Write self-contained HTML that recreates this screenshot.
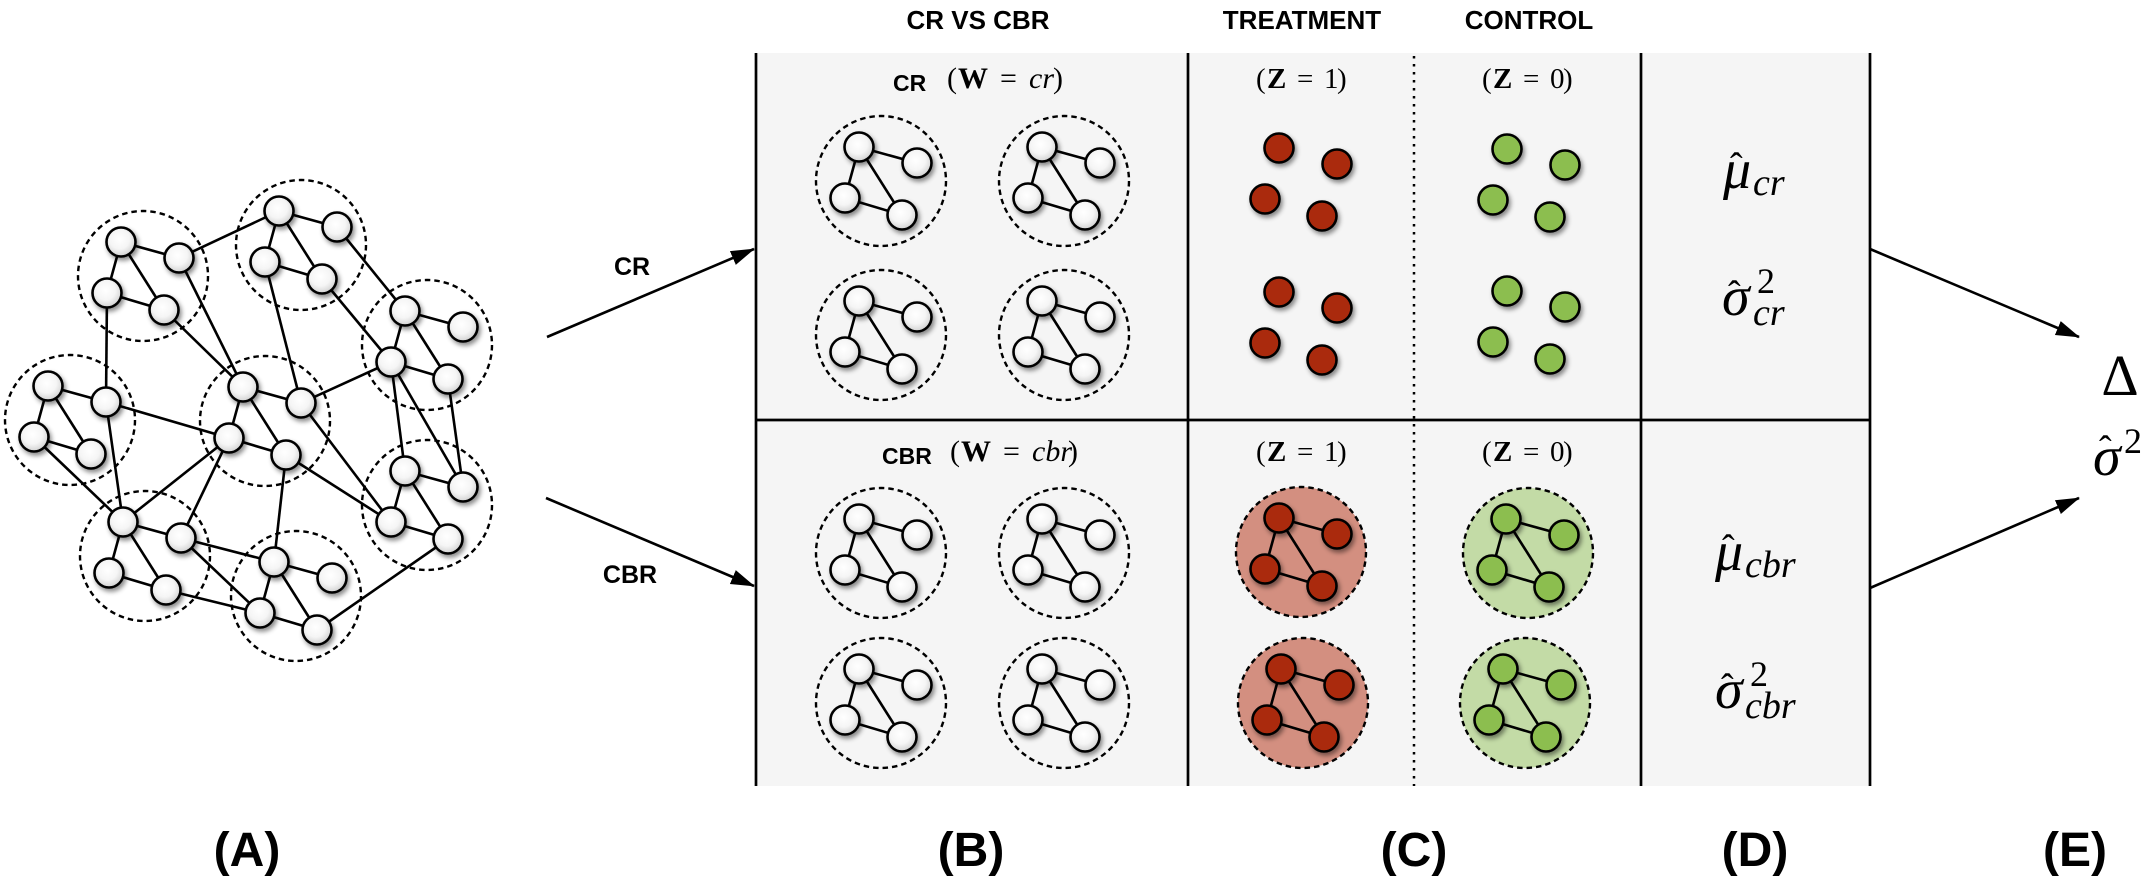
<!DOCTYPE html>
<html>
<head>
<meta charset="utf-8">
<style>
html,body{margin:0;padding:0;background:#fff;}
svg{display:block;}
.ttl{font-family:"Liberation Sans",Arial,sans-serif;font-weight:bold;}
.m{font-family:"Liberation Serif","Times New Roman",serif;}
</style>
</head>
<body>
<svg width="2153" height="880" viewBox="0 0 2153 880" xmlns="http://www.w3.org/2000/svg">
<defs>
  <radialGradient id="ngr" cx="45%" cy="40%" r="62%">
    <stop offset="0" stop-color="#ffffff"/>
    <stop offset="0.55" stop-color="#f5f5f5"/>
    <stop offset="1" stop-color="#cfcfcf"/>
  </radialGradient>
  <filter id="sh" x="-60%" y="-60%" width="220%" height="220%">
    <feDropShadow dx="2" dy="3" stdDeviation="2.5" flood-color="#000" flood-opacity="0.45"/>
  </filter>
  <marker id="ar" markerUnits="userSpaceOnUse" markerWidth="24" markerHeight="18" viewBox="0 0 24 18" refX="23" refY="9" orient="auto">
    <path d="M0,1.5 L24,9 L0,16.5 z" fill="#000"/>
  </marker>
  <g id="ed" stroke="#000" stroke-width="2.6" fill="none">
    <line x1="-22" y1="-34" x2="36" y2="-18"/>
    <line x1="-22" y1="-34" x2="-36" y2="17"/>
    <line x1="-22" y1="-34" x2="21" y2="34"/>
    <line x1="-36" y1="17" x2="21" y2="34"/>
  </g>
  <g id="nw" fill="url(#ngr)" stroke="#000" stroke-width="2.6" filter="url(#sh)">
    <circle cx="-22" cy="-34" r="14.5"/>
    <circle cx="36" cy="-18" r="14.5"/>
    <circle cx="-36" cy="17" r="14.5"/>
    <circle cx="21" cy="34" r="14.5"/>
  </g>
  <g id="nr" fill="#aa290b" stroke="#000" stroke-width="2.6" filter="url(#sh)">
    <circle cx="-22" cy="-34" r="14.5"/>
    <circle cx="36" cy="-18" r="14.5"/>
    <circle cx="-36" cy="17" r="14.5"/>
    <circle cx="21" cy="34" r="14.5"/>
  </g>
  <g id="ngn" fill="#8cbe50" stroke="#000" stroke-width="2.6" filter="url(#sh)">
    <circle cx="-22" cy="-34" r="14.5"/>
    <circle cx="36" cy="-18" r="14.5"/>
    <circle cx="-36" cy="17" r="14.5"/>
    <circle cx="21" cy="34" r="14.5"/>
  </g>
  <circle id="dc" cx="0" cy="0" r="65" fill="none" stroke="#000" stroke-width="2.4" stroke-dasharray="5.5 4"/>
  <g id="cw"><use href="#dc"/><use href="#ed"/><use href="#nw"/></g>
</defs>

<!-- ================= PANEL A ================= -->
<g>
  <use href="#dc" x="143" y="276"/>
  <use href="#dc" x="301" y="245"/>
  <use href="#dc" x="427" y="345"/>
  <use href="#dc" x="70" y="420"/>
  <use href="#dc" x="265" y="421"/>
  <use href="#dc" x="427" y="505"/>
  <use href="#dc" x="145" y="556"/>
  <use href="#dc" x="296" y="596"/>

  <use href="#ed" x="143" y="276"/>
  <use href="#ed" x="301" y="245"/>
  <use href="#ed" x="427" y="345"/>
  <use href="#ed" x="70" y="420"/>
  <use href="#ed" x="265" y="421"/>
  <use href="#ed" x="427" y="505"/>
  <use href="#ed" x="145" y="556"/>
  <use href="#ed" x="296" y="596"/>

  <g stroke="#000" stroke-width="2.6">
    <line x1="179" y1="258" x2="279" y2="211"/>
    <line x1="179" y1="258" x2="243" y2="387"/>
    <line x1="164" y1="310" x2="243" y2="387"/>
    <line x1="107" y1="293" x2="106" y2="402"/>
    <line x1="337" y1="227" x2="405" y2="311"/>
    <line x1="265" y1="262" x2="301" y2="403"/>
    <line x1="322" y1="279" x2="391" y2="362"/>
    <line x1="301" y1="403" x2="391" y2="362"/>
    <line x1="391" y1="362" x2="405" y2="471"/>
    <line x1="391" y1="362" x2="463" y2="487"/>
    <line x1="448" y1="379" x2="463" y2="487"/>
    <line x1="106" y1="402" x2="229" y2="438"/>
    <line x1="106" y1="402" x2="123" y2="522"/>
    <line x1="34" y1="437" x2="123" y2="522"/>
    <line x1="229" y1="438" x2="123" y2="522"/>
    <line x1="229" y1="438" x2="181" y2="538"/>
    <line x1="301" y1="403" x2="391" y2="522"/>
    <line x1="286" y1="455" x2="391" y2="522"/>
    <line x1="286" y1="455" x2="274" y2="562"/>
    <line x1="181" y1="538" x2="274" y2="562"/>
    <line x1="181" y1="538" x2="260" y2="613"/>
    <line x1="166" y1="590" x2="260" y2="613"/>
    <line x1="317" y1="630" x2="448" y2="539"/>
  </g>

  <use href="#nw" x="143" y="276"/>
  <use href="#nw" x="301" y="245"/>
  <use href="#nw" x="427" y="345"/>
  <use href="#nw" x="70" y="420"/>
  <use href="#nw" x="265" y="421"/>
  <use href="#nw" x="427" y="505"/>
  <use href="#nw" x="145" y="556"/>
  <use href="#nw" x="296" y="596"/>
</g>

<!-- arrows -->
<g stroke="#000" stroke-width="2.6">
  <line x1="547" y1="337" x2="754" y2="249" marker-end="url(#ar)"/>
  <line x1="546" y1="498" x2="754" y2="586" marker-end="url(#ar)"/>
  <line x1="1870" y1="249" x2="2079" y2="337" marker-end="url(#ar)"/>
  <line x1="1870" y1="588" x2="2079" y2="498" marker-end="url(#ar)"/>
</g>
<text class="ttl" x="632" y="275" font-size="25" text-anchor="middle">CR</text>
<text class="ttl" x="630" y="583" font-size="25" text-anchor="middle">CBR</text>

<!-- ================= BOX ================= -->
<rect x="756" y="53" width="1114" height="733" fill="#f5f5f5"/>
<g stroke="#000" stroke-width="2.7">
  <line x1="756" y1="53" x2="756" y2="786"/>
  <line x1="1188" y1="53" x2="1188" y2="786"/>
  <line x1="1641" y1="53" x2="1641" y2="786"/>
  <line x1="1870" y1="53" x2="1870" y2="786"/>
  <line x1="756" y1="420" x2="1870" y2="420"/>
</g>
<line x1="1414" y1="56" x2="1414" y2="786" stroke="#000" stroke-width="2.5" stroke-dasharray="2.5 5.5"/>

<!-- titles -->
<text class="ttl" x="978" y="29" font-size="26" text-anchor="middle">CR VS CBR</text>
<text class="ttl" x="1302" y="29" font-size="26" text-anchor="middle">TREATMENT</text>
<text class="ttl" x="1529" y="29" font-size="26" text-anchor="middle">CONTROL</text>

<!-- B labels -->
<text class="ttl" x="893" y="91" font-size="23">CR</text>
<text class="m" y="88" font-size="30"><tspan x="947">(</tspan><tspan x="958" font-weight="bold">W</tspan><tspan x="1000">=</tspan><tspan x="1029" font-style="italic">cr</tspan><tspan x="1053">)</tspan></text>
<text class="ttl" x="882" y="464" font-size="23">CBR</text>
<text class="m" y="461" font-size="30"><tspan x="950">(</tspan><tspan x="961" font-weight="bold">W</tspan><tspan x="1003">=</tspan><tspan x="1032" font-style="italic">cbr</tspan><tspan x="1068">)</tspan></text>

<!-- C labels -->
<text class="m" y="88" font-size="29"><tspan x="1256">(</tspan><tspan x="1267" font-weight="bold">Z</tspan><tspan x="1297">=</tspan><tspan x="1324">1</tspan><tspan x="1337">)</tspan></text>
<text class="m" y="88" font-size="29"><tspan x="1482">(</tspan><tspan x="1493" font-weight="bold">Z</tspan><tspan x="1523">=</tspan><tspan x="1550">0</tspan><tspan x="1563">)</tspan></text>
<text class="m" y="461" font-size="29"><tspan x="1256">(</tspan><tspan x="1267" font-weight="bold">Z</tspan><tspan x="1297">=</tspan><tspan x="1324">1</tspan><tspan x="1337">)</tspan></text>
<text class="m" y="461" font-size="29"><tspan x="1482">(</tspan><tspan x="1493" font-weight="bold">Z</tspan><tspan x="1523">=</tspan><tspan x="1550">0</tspan><tspan x="1563">)</tspan></text>

<!-- B clusters -->
<use href="#cw" x="881" y="181"/>
<use href="#cw" x="1064" y="181"/>
<use href="#cw" x="881" y="335"/>
<use href="#cw" x="1064" y="335"/>
<use href="#cw" x="881" y="553"/>
<use href="#cw" x="1064" y="553"/>
<use href="#cw" x="881" y="703"/>
<use href="#cw" x="1064" y="703"/>

<!-- C top: scattered nodes -->
<use href="#nr" x="1301" y="182"/>
<use href="#nr" x="1301" y="326"/>
<use href="#ngn" x="1529" y="183"/>
<use href="#ngn" x="1529" y="325"/>

<!-- C bottom: clusters -->
<g>
  <circle cx="1301" cy="552" r="65" fill="#d38f80" stroke="#000" stroke-width="2.4" stroke-dasharray="5.5 4"/>
  <use href="#ed" x="1301" y="552"/><use href="#nr" x="1301" y="552"/>
  <circle cx="1303" cy="703" r="65" fill="#d38f80" stroke="#000" stroke-width="2.4" stroke-dasharray="5.5 4"/>
  <use href="#ed" x="1303" y="703"/><use href="#nr" x="1303" y="703"/>
  <circle cx="1528" cy="553" r="65" fill="#c3dba6" stroke="#000" stroke-width="2.4" stroke-dasharray="5.5 4"/>
  <use href="#ed" x="1528" y="553"/><use href="#ngn" x="1528" y="553"/>
  <circle cx="1525" cy="703" r="65" fill="#c3dba6" stroke="#000" stroke-width="2.4" stroke-dasharray="5.5 4"/>
  <use href="#ed" x="1525" y="703"/><use href="#ngn" x="1525" y="703"/>
</g>

<!-- D: estimates -->
<g class="m">
  <text x="1723" y="188" font-size="56" font-style="italic">μ</text>
  <text x="1730" y="179" font-size="38">ˆ</text>
  <text x="1753" y="195" font-size="38" font-style="italic">cr</text>

  <text x="1722" y="315" font-size="56" font-style="italic">σ</text>
  <text x="1728" y="307" font-size="38">ˆ</text>
  <text x="1757" y="293" font-size="36">2</text>
  <text x="1753" y="325" font-size="38" font-style="italic">cr</text>

  <text x="1715" y="570" font-size="56" font-style="italic">μ</text>
  <text x="1722" y="561" font-size="38">ˆ</text>
  <text x="1745" y="577" font-size="38" font-style="italic">cbr</text>

  <text x="1715" y="708" font-size="56" font-style="italic">σ</text>
  <text x="1721" y="700" font-size="38">ˆ</text>
  <text x="1750" y="686" font-size="36">2</text>
  <text x="1745" y="718" font-size="38" font-style="italic">cbr</text>
</g>

<!-- E -->
<g class="m">
  <text x="2120" y="395" font-size="58" text-anchor="middle">Δ</text>
  <text x="2093" y="475" font-size="56" font-style="italic">σ</text>
  <text x="2099" y="462" font-size="38">ˆ</text>
  <text x="2124" y="453" font-size="36">2</text>
</g>

<!-- panel letters -->
<g class="ttl" font-size="48" text-anchor="middle">
  <text x="247" y="866">(A)</text>
  <text x="971" y="866">(B)</text>
  <text x="1414" y="866">(C)</text>
  <text x="1755" y="866">(D)</text>
  <text x="2075" y="866">(E)</text>
</g>
</svg>
</body>
</html>
